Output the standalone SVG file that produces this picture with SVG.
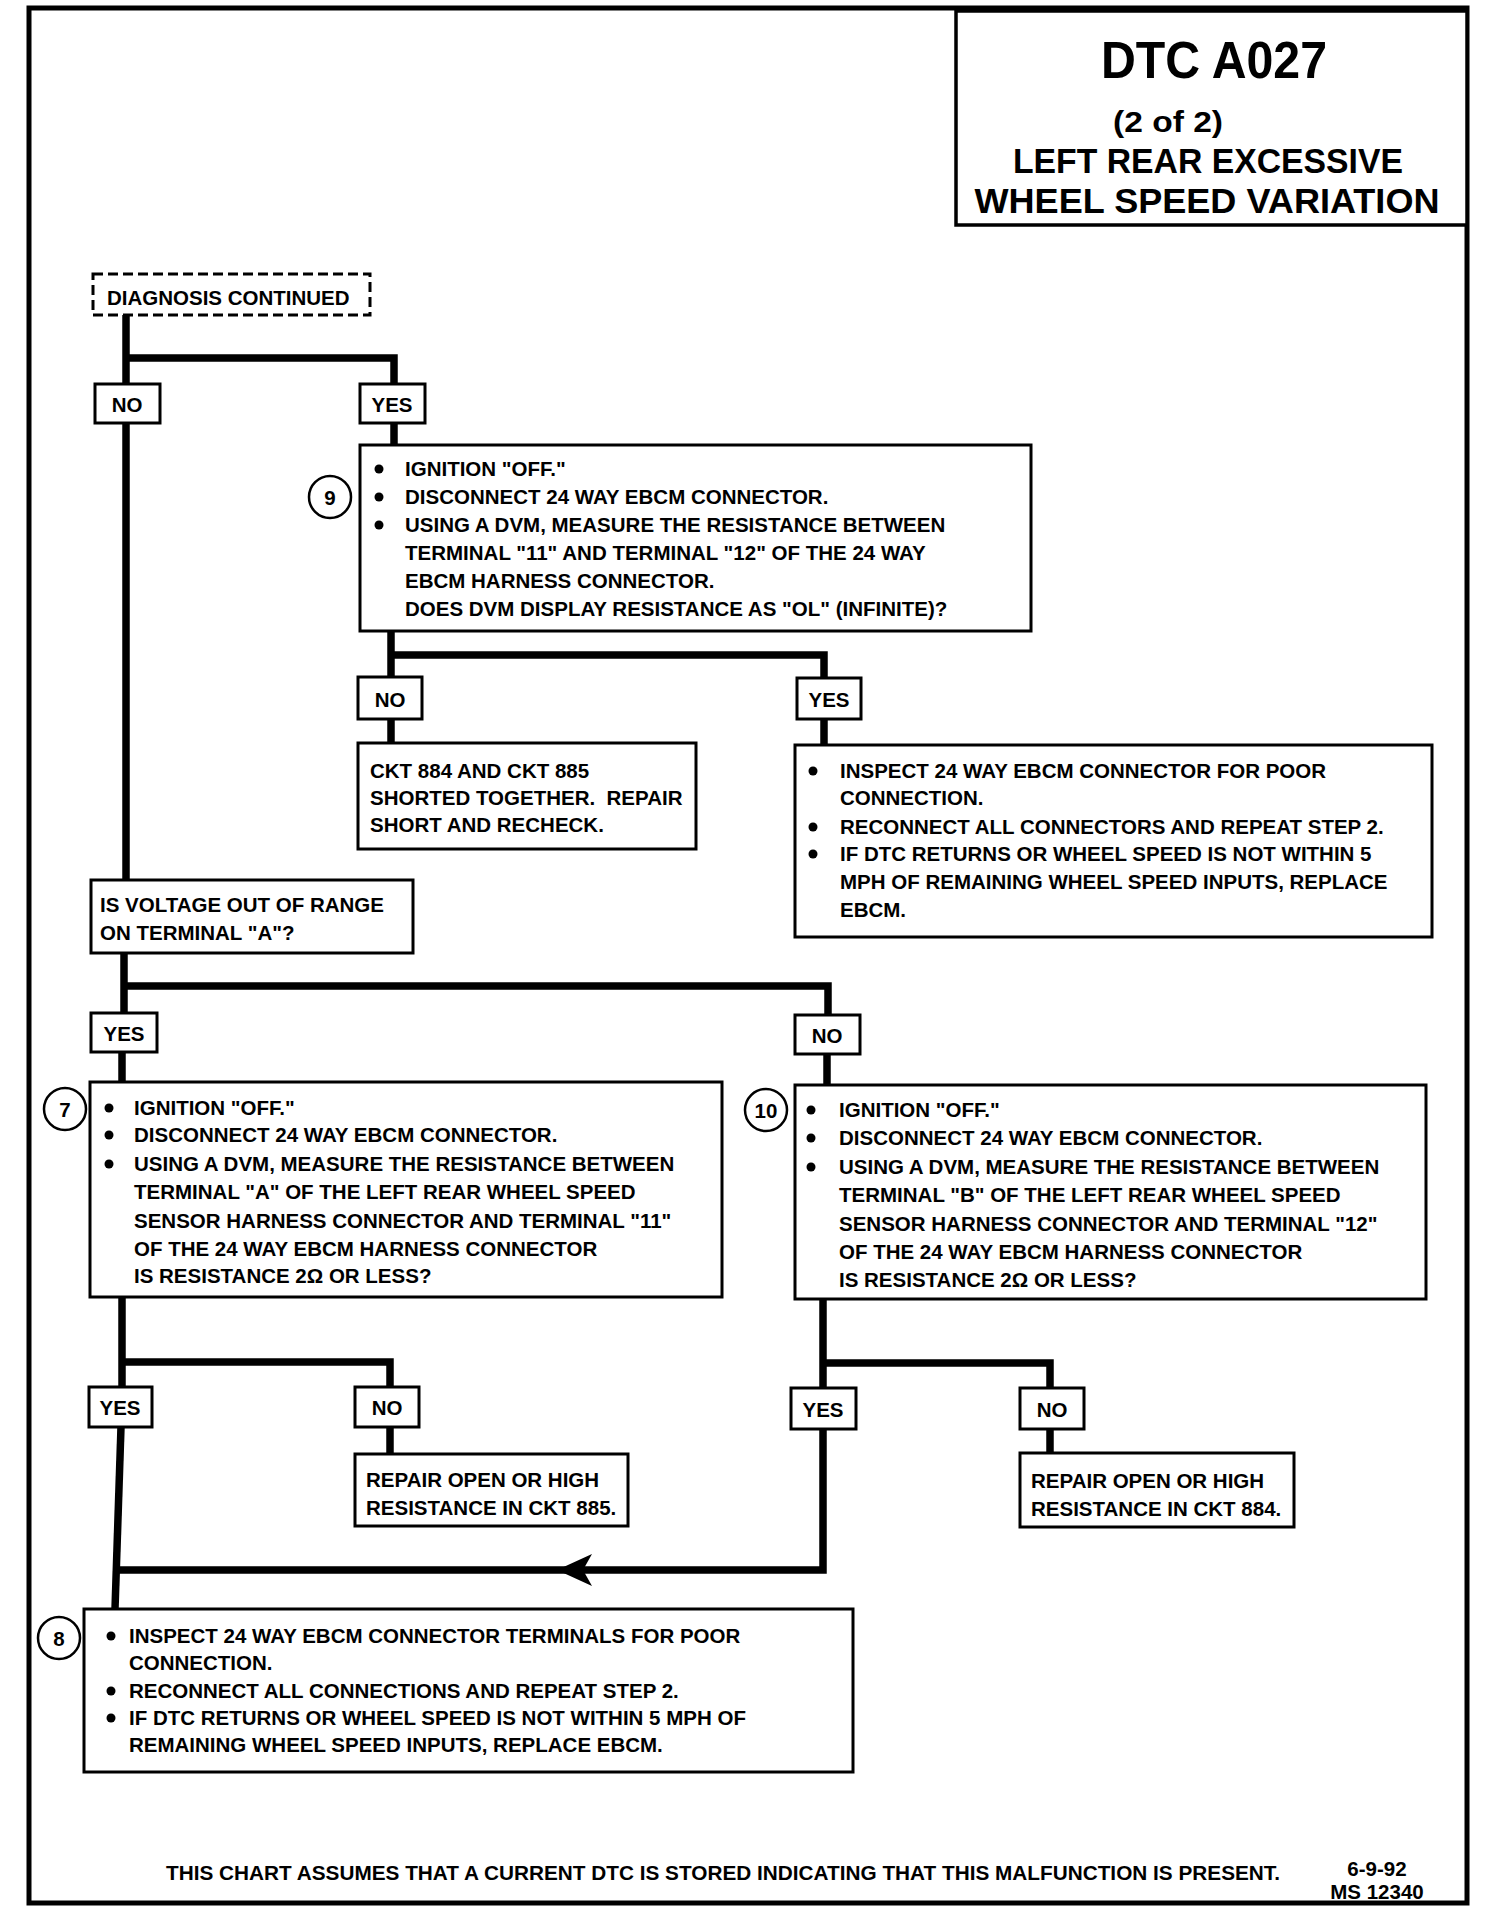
<svg xmlns="http://www.w3.org/2000/svg" width="1488" height="1916" viewBox="0 0 1488 1916">
<style>
.t{font-family:"Liberation Sans",Arial,sans-serif;font-weight:bold;font-size:20.5px;fill:#000}
.m{text-anchor:middle}
.box{fill:#fff;stroke:#000;stroke-width:3}
.lbl{fill:#fff;stroke:#000;stroke-width:3}
.num{fill:#fff;stroke:#000;stroke-width:2.5}
.c{fill:none;stroke:#000;stroke-width:7.5}
</style>
<rect width="1488" height="1916" fill="#fff"/>
<rect x="29" y="8" width="1438" height="1895" fill="none" stroke="#000" stroke-width="5"/>
<g id="title">
<rect x="956" y="11" width="511" height="214" fill="#fff" stroke="#000" stroke-width="3.5"/>
<text class="t m" x="1214" y="78" textLength="226" lengthAdjust="spacingAndGlyphs" style="font-size:52px">DTC A027</text>
<text class="t m" x="1168" y="132" style="font-size:30px" textLength="110" lengthAdjust="spacingAndGlyphs">(2 of 2)</text>
<text class="t m" x="1208" y="173" style="font-size:35.5px" textLength="390" lengthAdjust="spacingAndGlyphs">LEFT REAR EXCESSIVE</text>
<text class="t m" x="1207" y="213" style="font-size:35.5px" textLength="465" lengthAdjust="spacingAndGlyphs">WHEEL SPEED VARIATION</text>
</g>
<g id="connectors">
<path class="c" d="M126 315 V384"/>
<path class="c" d="M126 358 H394 V384"/>
<path class="c" d="M394 423 V445"/>
<path class="c" d="M126 423 V880"/>
<path class="c" d="M391 631 V677"/>
<path class="c" d="M391 655 H824 V678"/>
<path class="c" d="M391 719 V743"/>
<path class="c" d="M824 719 V745"/>
<path class="c" d="M124 953 V1017"/>
<path class="c" d="M124 986 H828 V1019"/>
<path class="c" d="M122 1052 V1082"/>
<path class="c" d="M827 1054 V1085"/>
<path class="c" d="M122 1297 V1387"/>
<path class="c" d="M122 1362 H390 V1387"/>
<path class="c" d="M390 1427 V1454"/>
<path class="c" d="M121 1427 L115 1609"/>
<path class="c" d="M823 1299 V1388"/>
<path class="c" d="M823 1363 H1050 V1388"/>
<path class="c" d="M1050 1429 V1453"/>
<path class="c" d="M823 1429 V1570 H117"/>
<polygon points="557,1570 592,1554 583,1570 592,1586" fill="#000"/>
</g>
<g id="diagnosis-continued">
<rect x="93" y="274" width="277" height="41" fill="#fff" stroke="#000" stroke-width="3" stroke-dasharray="10 5"/>
<text class="t" x="107" y="305">DIAGNOSIS CONTINUED</text>
</g>
<g id="no-1"><rect class="lbl" x="95" y="384" width="65" height="39"/><text class="t m" x="127" y="412">NO</text></g>
<g id="yes-1"><rect class="lbl" x="360" y="384" width="65" height="39"/><text class="t m" x="392" y="412">YES</text></g>
<g id="step-9">
<rect class="box" x="360" y="445" width="671" height="186"/>
<circle class="num" cx="330" cy="497" r="21"/>
<text class="t m" x="330" y="505">9</text>
<circle cx="379" cy="469" r="4.5"/><circle cx="379" cy="497" r="4.5"/><circle cx="379" cy="525" r="4.5"/>
<text class="t" x="405" y="476">IGNITION "OFF."</text>
<text class="t" x="405" y="504">DISCONNECT 24 WAY EBCM CONNECTOR.</text>
<text class="t" x="405" y="532">USING A DVM, MEASURE THE RESISTANCE BETWEEN</text>
<text class="t" x="405" y="560">TERMINAL "11" AND TERMINAL "12" OF THE 24 WAY</text>
<text class="t" x="405" y="588">EBCM HARNESS CONNECTOR.</text>
<text class="t" x="405" y="616">DOES DVM DISPLAY RESISTANCE AS "OL" (INFINITE)?</text>
</g>
<g id="no-2"><rect class="lbl" x="358" y="677" width="64" height="42"/><text class="t m" x="390" y="707">NO</text></g>
<g id="yes-2"><rect class="lbl" x="797" y="678" width="64" height="41"/><text class="t m" x="829" y="707">YES</text></g>
<g id="short-repair">
<rect class="box" x="358" y="743" width="338" height="106"/>
<text class="t" x="370" y="778">CKT 884 AND CKT 885</text>
<text class="t" x="370" y="805" xml:space="preserve">SHORTED TOGETHER.  REPAIR</text>
<text class="t" x="370" y="832">SHORT AND RECHECK.</text>
</g>
<g id="inspect-9">
<rect class="box" x="795" y="745" width="637" height="192"/>
<circle cx="813" cy="771" r="4.5"/><circle cx="813" cy="827" r="4.5"/><circle cx="813" cy="854" r="4.5"/>
<text class="t" x="840" y="778">INSPECT 24 WAY EBCM CONNECTOR FOR POOR</text>
<text class="t" x="840" y="805">CONNECTION.</text>
<text class="t" x="840" y="834">RECONNECT ALL CONNECTORS AND REPEAT STEP 2.</text>
<text class="t" x="840" y="861">IF DTC RETURNS OR WHEEL SPEED IS NOT WITHIN 5</text>
<text class="t" x="840" y="889">MPH OF REMAINING WHEEL SPEED INPUTS, REPLACE</text>
<text class="t" x="840" y="917">EBCM.</text>
</g>
<g id="voltage-question">
<rect class="box" x="91" y="880" width="322" height="73"/>
<text class="t" x="100" y="912">IS VOLTAGE OUT OF RANGE</text>
<text class="t" x="100" y="940">ON TERMINAL "A"?</text>
</g>
<g id="yes-3"><rect class="lbl" x="91" y="1013" width="66" height="39"/><text class="t m" x="124" y="1041">YES</text></g>
<g id="no-3"><rect class="lbl" x="795" y="1015" width="65" height="39"/><text class="t m" x="827" y="1043">NO</text></g>
<g id="step-7">
<rect class="box" x="90" y="1082" width="632" height="215"/>
<circle class="num" cx="65" cy="1109" r="21"/>
<text class="t m" x="65" y="1117">7</text>
<circle cx="109" cy="1108" r="4.5"/><circle cx="109" cy="1135" r="4.5"/><circle cx="109" cy="1164" r="4.5"/>
<text class="t" x="134" y="1115">IGNITION "OFF."</text>
<text class="t" x="134" y="1142">DISCONNECT 24 WAY EBCM CONNECTOR.</text>
<text class="t" x="134" y="1171">USING A DVM, MEASURE THE RESISTANCE BETWEEN</text>
<text class="t" x="134" y="1199">TERMINAL "A" OF THE LEFT REAR WHEEL SPEED</text>
<text class="t" x="134" y="1228">SENSOR HARNESS CONNECTOR AND TERMINAL "11"</text>
<text class="t" x="134" y="1256">OF THE 24 WAY EBCM HARNESS CONNECTOR</text>
<text class="t" x="134" y="1283">IS RESISTANCE 2Ω OR LESS?</text>
</g>
<g id="step-10">
<rect class="box" x="795" y="1085" width="631" height="214"/>
<circle class="num" cx="766" cy="1110" r="21"/>
<text class="t m" x="766" y="1118">10</text>
<circle cx="811" cy="1110" r="4.5"/><circle cx="811" cy="1138" r="4.5"/><circle cx="811" cy="1167" r="4.5"/>
<text class="t" x="839" y="1117">IGNITION "OFF."</text>
<text class="t" x="839" y="1145">DISCONNECT 24 WAY EBCM CONNECTOR.</text>
<text class="t" x="839" y="1174">USING A DVM, MEASURE THE RESISTANCE BETWEEN</text>
<text class="t" x="839" y="1202">TERMINAL "B" OF THE LEFT REAR WHEEL SPEED</text>
<text class="t" x="839" y="1231">SENSOR HARNESS CONNECTOR AND TERMINAL "12"</text>
<text class="t" x="839" y="1259">OF THE 24 WAY EBCM HARNESS CONNECTOR</text>
<text class="t" x="839" y="1287">IS RESISTANCE 2Ω OR LESS?</text>
</g>
<g id="yes-4"><rect class="lbl" x="89" y="1387" width="63" height="40"/><text class="t m" x="120" y="1415">YES</text></g>
<g id="no-4"><rect class="lbl" x="355" y="1387" width="64" height="40"/><text class="t m" x="387" y="1415">NO</text></g>
<g id="yes-5"><rect class="lbl" x="791" y="1388" width="65" height="41"/><text class="t m" x="823" y="1417">YES</text></g>
<g id="no-5"><rect class="lbl" x="1020" y="1388" width="64" height="41"/><text class="t m" x="1052" y="1417">NO</text></g>
<g id="repair-885">
<rect class="box" x="355" y="1454" width="273" height="72"/>
<text class="t" x="366" y="1487">REPAIR OPEN OR HIGH</text>
<text class="t" x="366" y="1515">RESISTANCE IN CKT 885.</text>
</g>
<g id="repair-884">
<rect class="box" x="1020" y="1453" width="274" height="74"/>
<text class="t" x="1031" y="1488">REPAIR OPEN OR HIGH</text>
<text class="t" x="1031" y="1516">RESISTANCE IN CKT 884.</text>
</g>
<g id="step-8">
<rect class="box" x="84" y="1609" width="769" height="163"/>
<circle class="num" cx="59" cy="1638" r="21"/>
<text class="t m" x="59" y="1646">8</text>
<circle cx="111" cy="1636" r="4.5"/><circle cx="111" cy="1691" r="4.5"/><circle cx="111" cy="1718" r="4.5"/>
<text class="t" x="129" y="1643">INSPECT 24 WAY EBCM CONNECTOR TERMINALS FOR POOR</text>
<text class="t" x="129" y="1670">CONNECTION.</text>
<text class="t" x="129" y="1698">RECONNECT ALL CONNECTIONS AND REPEAT STEP 2.</text>
<text class="t" x="129" y="1725">IF DTC RETURNS OR WHEEL SPEED IS NOT WITHIN 5 MPH OF</text>
<text class="t" x="129" y="1752">REMAINING WHEEL SPEED INPUTS, REPLACE EBCM.</text>
</g>
<g id="footer">
<text class="t" x="166" y="1880" textLength="1114" lengthAdjust="spacingAndGlyphs">THIS CHART ASSUMES THAT A CURRENT DTC IS STORED INDICATING THAT THIS MALFUNCTION IS PRESENT.</text>
<text class="t m" x="1377" y="1876">6-9-92</text>
<text class="t m" x="1377" y="1899">MS 12340</text>
</g>
</svg>
